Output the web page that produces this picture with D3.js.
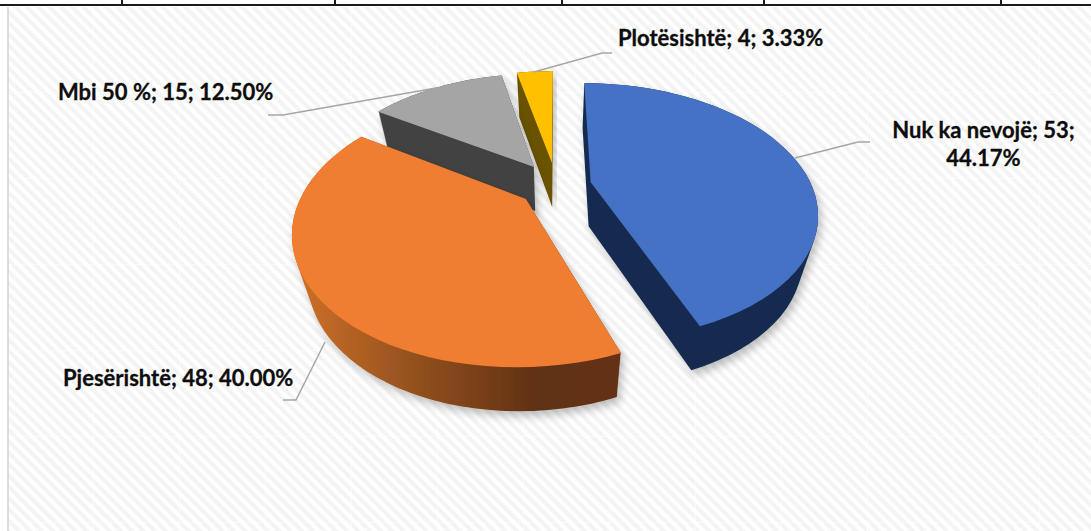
<!DOCTYPE html>
<html>
<head>
<meta charset="utf-8">
<script src="https://cdn.jsdelivr.net/npm/d3@7"></script>
<style>
body { margin: 0; background: #fff; }
svg { display: block; }
text { font-family: Lato, "Open Sans", sans-serif; font-weight: 700; fill: #0d0d0d; stroke: #0d0d0d; stroke-width: 0.3; }
</style>
</head>
<body>
<svg id="chart" width="1091" height="531"></svg>
<script>
const categories = ['Nuk ka nevojë', 'Pjesërishtë', 'Mbi 50 %', 'Plotësishtë'];
const counts = [53, 48, 15, 4];
const percents = ['44.17%', '40.00%', '12.50%', '3.33%'];

const width = 1091, height = 531;
const svg = d3.select('#chart');
const defs = svg.append('defs');

// striped chart area
const stripes = defs.append('pattern')
    .attr('id', 'stripes')
    .attr('width', 8).attr('height', 8)
    .attr('patternUnits', 'userSpaceOnUse')
    .attr('patternTransform', 'rotate(45)');
stripes.append('rect').attr('width', 8).attr('height', 8).attr('fill', '#ffffff');
stripes.append('rect').attr('width', 8).attr('height', 4).attr('fill', '#f4f4f4');

svg.append('rect').attr('x', 9).attr('y', 7).attr('width', width - 9).attr('height', height - 7).attr('fill', 'url(#stripes)');

// faint seams of the tiled background
const seams = svg.append('g').attr('stroke', '#fff').attr('stroke-opacity', 0.5);
d3.range(93, width, 86).forEach(x => {
    seams.append('line').attr('x1', x + 0.5).attr('x2', x + 0.5).attr('y1', 7).attr('y2', height);
});
d3.range(92, height, 86).forEach(y => {
    seams.append('line').attr('x1', 9).attr('x2', width).attr('y1', y + 0.5).attr('y2', y + 0.5);
});

svg.append('line').attr('x1', 8).attr('x2', 8).attr('y1', 7).attr('y2', height).attr('stroke', '#dcdcdc').attr('stroke-width', 2);

// table border above the chart
svg.append('line').attr('x1', 0).attr('x2', width).attr('y1', 5).attr('y2', 5).attr('stroke', '#1a1a1a').attr('stroke-width', 2);
[122, 335, 562, 764, 1001].forEach(x => {
    svg.append('line').attr('x1', x).attr('x2', x).attr('y1', 0).attr('y2', 5).attr('stroke', '#1a1a1a').attr('stroke-width', 2);
});

const shadow = defs.append('filter').attr('id', 'shadow')
    .attr('x', '-10%').attr('y', '-10%').attr('width', '120%').attr('height', '125%');
shadow.append('feDropShadow')
    .attr('dx', 3).attr('dy', 5).attr('stdDeviation', 4)
    .attr('flood-color', '#000').attr('flood-opacity', 0.25);

const orangeSide = defs.append('linearGradient').attr('id', 'orangeSide')
    .attr('gradientUnits', 'userSpaceOnUse')
    .attr('x1', 295).attr('x2', 620).attr('y1', 0).attr('y2', 0);
orangeSide.append('stop').attr('offset', '0').attr('stop-color', '#cf7029');
orangeSide.append('stop').attr('offset', '0.35').attr('stop-color', '#96521f');
orangeSide.append('stop').attr('offset', '0.75').attr('stop-color', '#5f3012');
orangeSide.append('stop').attr('offset', '1').attr('stop-color', '#653313');

// perspective of the tilted disc
const cx = 556, cy = 181, rx = 219, ry = 121, k = 0.227, depth = 44;
const project = (X, V, h) => {
    const w = 1 + k * V;
    const x = cx + rx * X / w;
    const y = cy - ry * V / w;
    const s = 1 - 0.06 * h;
    return [cx + (x - cx) * s, y + depth * h];
};

const topColors = ['#4472c4', '#f07e30', '#a5a5a5', '#ffc000'];
const sideColors = ['#172b4f', 'url(#orangeSide)', '#434343', '#6b5200'];
// how far each slice is pulled out, and its radius, in disc units
const offsets = [[0.158, -0.01, 1], [-0.133, -0.144, 0.997], [-0.103, 0.119, 0.99], [-0.019, 0.154, 0.99]];

const pie = d3.pie().sort(null).value(d => d);
const arcs = pie(counts);
const line = d3.line();

const outline = (d, i, h) => {
    const [ex, ev, r] = offsets[i];
    const t = d3.scaleLinear().domain([0, 48]).range([d.startAngle, d.endAngle]);
    const pts = [project(ex, ev, h)];
    d3.range(49).forEach(n => {
        const a = t(n);
        pts.push(project(ex + r * Math.sin(a), ev + r * Math.cos(a), h));
    });
    return line(pts) + 'Z';
};

// back slices first
const order = [3, 2, 0, 1];
const slices = svg.append('g');
order.forEach(i => {
    const d = arcs[i];
    const g = slices.append('g').attr('filter', 'url(#shadow)');
    g.append('path')
        .attr('d', d3.range(depth + 1).map(n => outline(d, i, n / depth)).join(''))
        .attr('fill', sideColors[i]);
    g.append('path').attr('d', outline(d, i, 0)).attr('fill', topColors[i]);
});

// leader lines
const leaders = [
    [[795, 158], [858, 142], [870, 142]],
    [[325, 342], [296, 400], [283, 400]],
    [[436, 88], [283, 115], [268, 115]],
    [[534, 72], [602, 53], [612, 53]]
];
svg.append('g').selectAll('path').data(leaders).join('path')
    .attr('d', d => line(d))
    .attr('fill', 'none').attr('stroke', '#a6a6a6').attr('stroke-width', 1.5);

// labels
const fontSize = 22;
const labels = [
    { i: 0, x: 983.5, y: 138, anchor: 'middle', split: true },
    { i: 1, x: 63, y: 386, anchor: 'start' },
    { i: 2, x: 58, y: 100, anchor: 'start' },
    { i: 3, x: 618, y: 46, anchor: 'start' }
];
labels.forEach(l => {
    const head = `${categories[l.i]}; ${counts[l.i]};`;
    const t = svg.append('text').attr('text-anchor', l.anchor).attr('font-size', fontSize);
    if (l.split) {
        t.append('tspan').attr('x', l.x).attr('y', l.y).text(head);
        t.append('tspan').attr('x', l.x).attr('y', l.y + 28).text(percents[l.i]);
    } else {
        t.attr('x', l.x).attr('y', l.y).text(`${head} ${percents[l.i]}`);
    }
});
</script>
</body>
</html>
